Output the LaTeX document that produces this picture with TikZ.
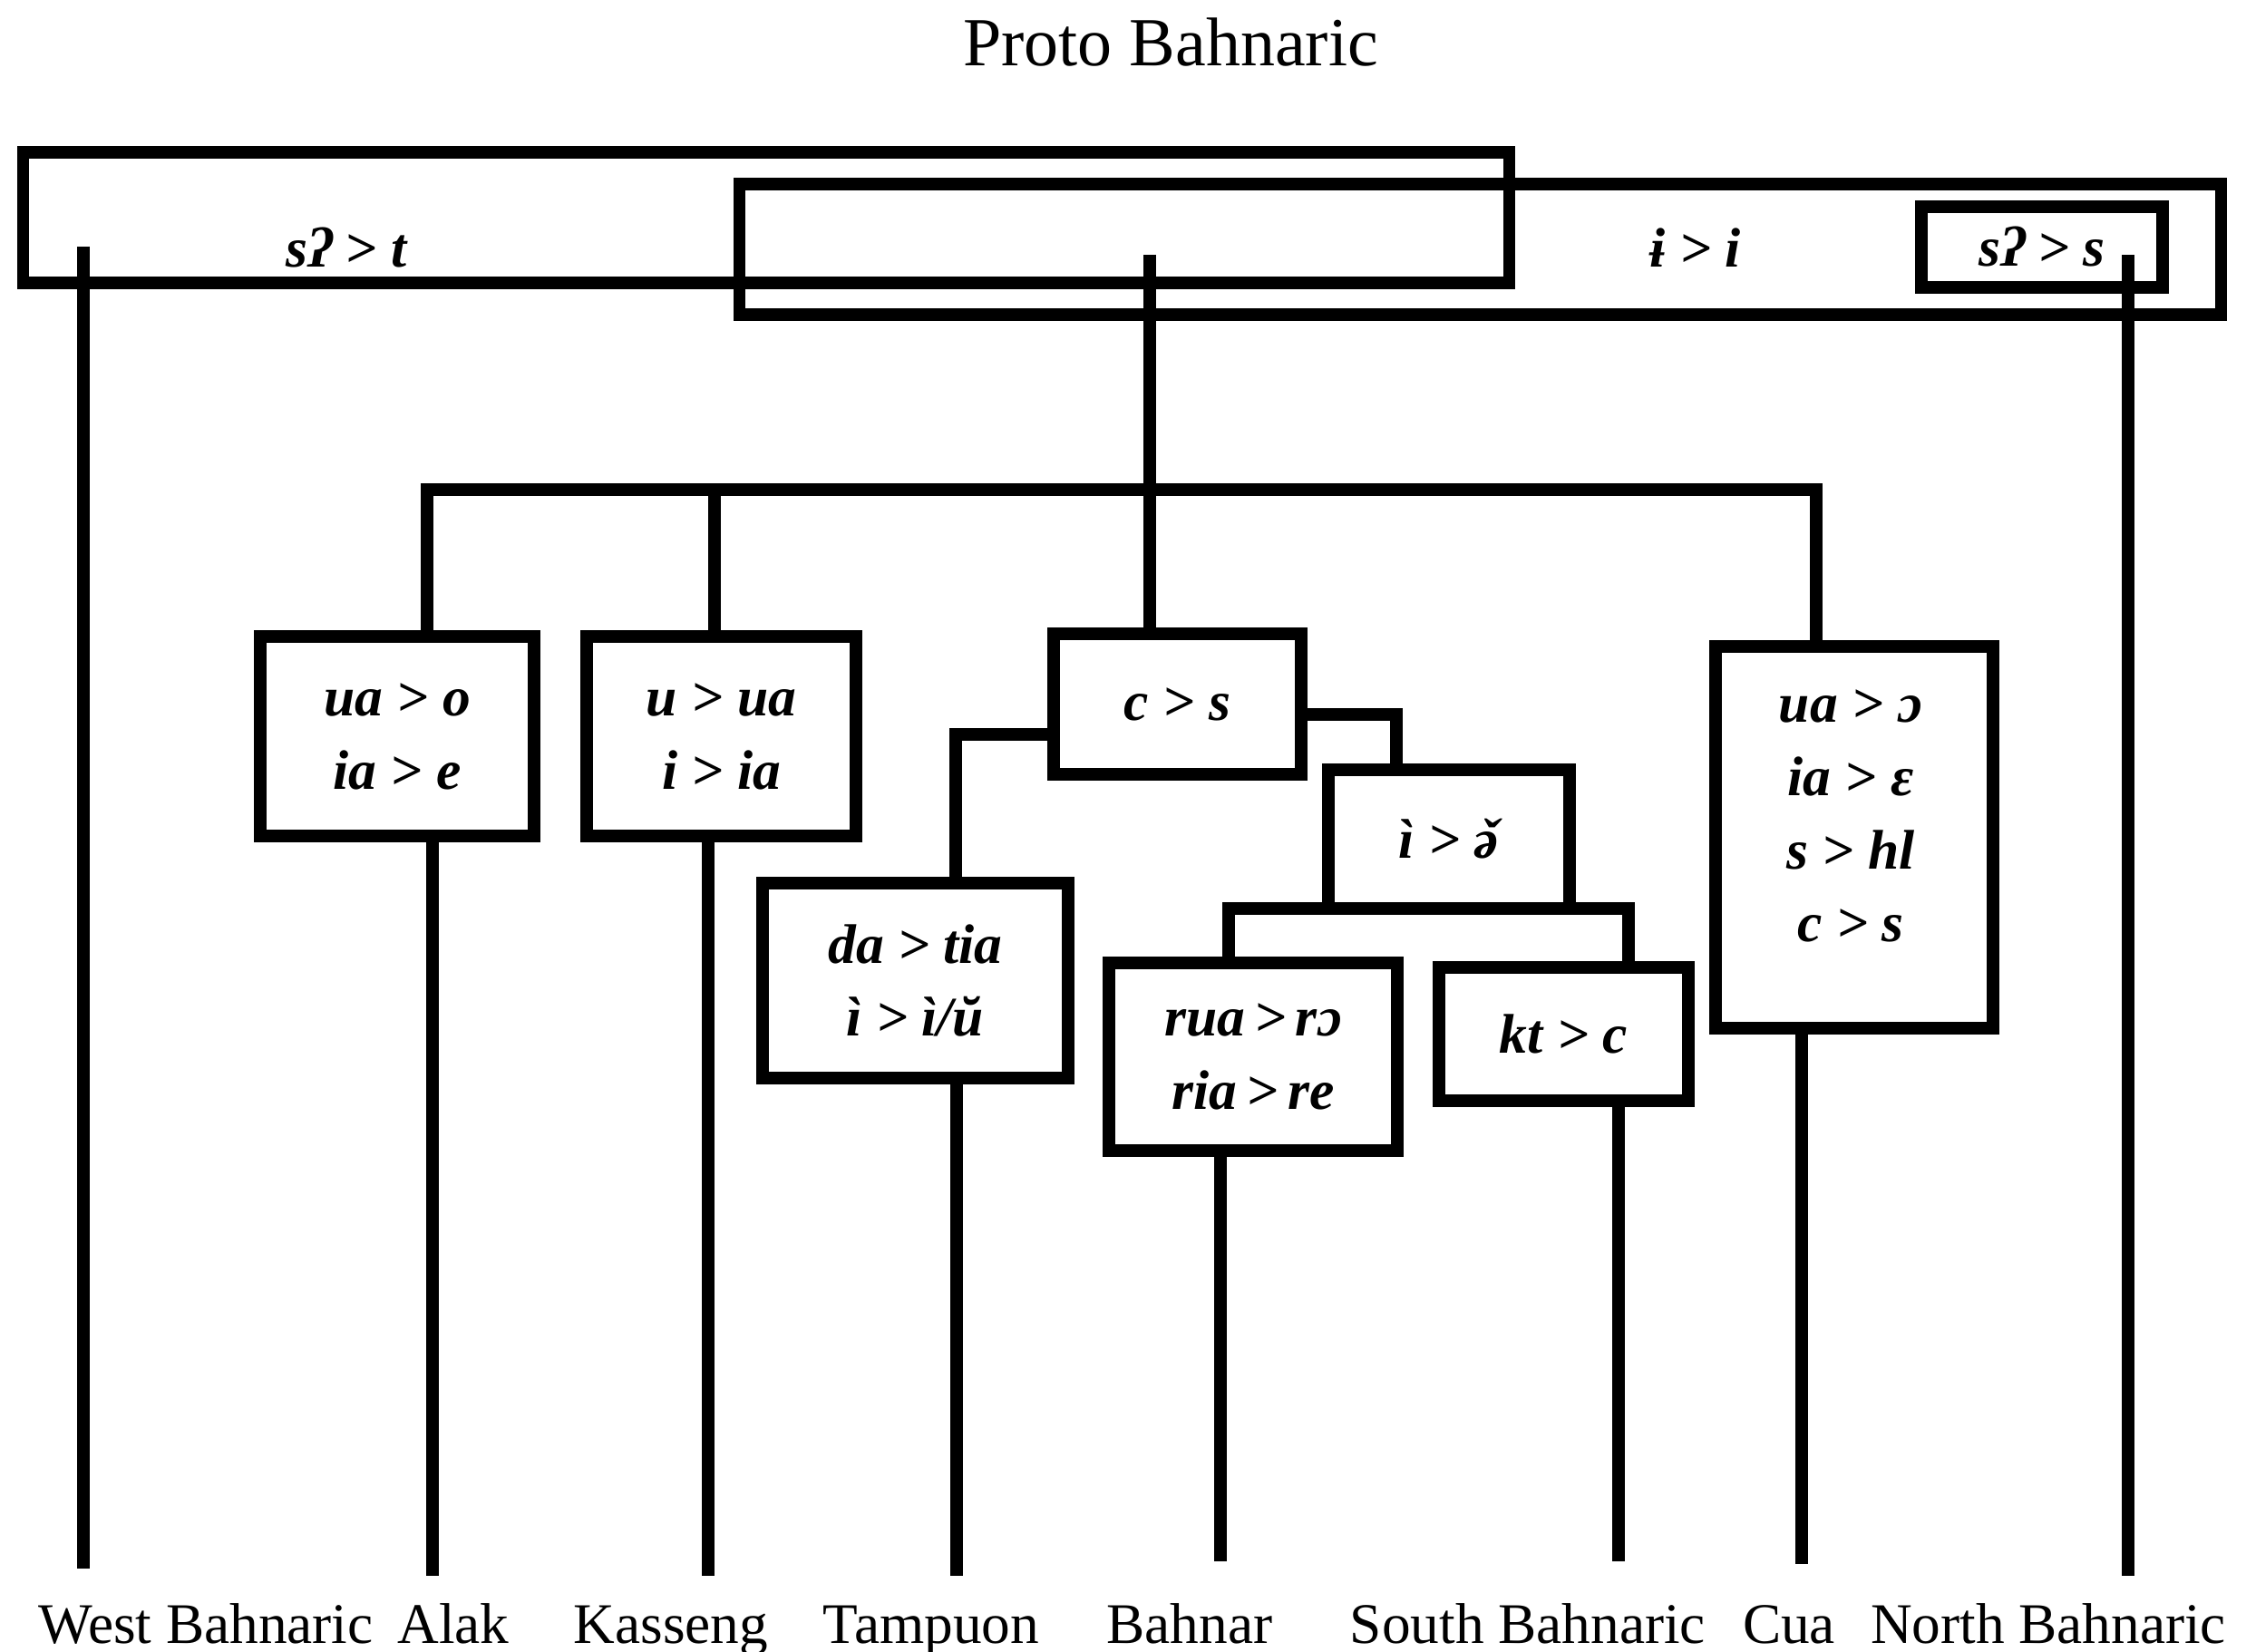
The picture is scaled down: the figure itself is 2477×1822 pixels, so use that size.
\documentclass[tikz,border=0pt]{standalone}
\usepackage{fontspec}
\setmainfont{Liberation Serif}
\newcommand\chgfont{\fontsize{17.5}{23}\selectfont\bfseries\itshape}
\newcommand\schwacaron{{\ooalign{ə\cr\hidewidth\kern0.12em ˇ\hidewidth\cr}}}
\begin{document}
\begin{tikzpicture}[x=0.01cm,y=-0.01cm,
  lw/.style={line width=0.135cm},
  box/.style={draw, lw, inner sep=0pt, align=center, font=\chgfont},
  conn/.style={draw, lw, line join=miter},
  chg/.style={font=\chgfont, inner sep=0pt, align=center},
  lang/.style={font=\fontsize{18}{20}\selectfont, anchor=base, inner sep=0pt},
  ttl/.style={font=\fontsize{21.6}{24}\selectfont, anchor=base, inner sep=0pt}]
\useasboundingbox (0,0) rectangle (2477,1822);

% title
\node[ttl] (pb) at (1291,73) {Proto Bahnaric};

% top boxes
\node[box, minimum width=16.38cm, minimum height=1.44cm] (A) at (845,240) {};
\node[box, minimum width=16.33cm, minimum height=1.44cm] (B) at (1632.5,275) {};
\node[box, minimum width=2.66cm, minimum height=0.89cm] (C) at (2252,272.5) {sʔ > s};
\node[chg] (tA) at (382,273) {sʔ > t};
\node[chg] (tB) at (1870,273) {ɨ > i};

% change boxes
\node[box, minimum width=3.02cm, minimum height=2.20cm] (alak) at (438,812) {ua > o\\ia > e};
\node[box, minimum width=2.97cm, minimum height=2.20cm] (kas) at (795.5,812) {u > ua\\i > ia};
\node[box, minimum width=2.73cm, minimum height=1.55cm] (cs) at (1298.5,776.5) {c > s};
\node[box, minimum width=3.37cm, minimum height=2.15cm] (tam) at (1009.5,1081.5) {da > tia\\ì > ì/ŭ};
\node[box, minimum width=2.66cm, minimum height=1.53cm] (ipa) at (1598,925.5) {ì > \schwacaron};
\node[box, minimum width=3.18cm, minimum height=2.07cm] (rua) at (1382,1165.5) {rua\,>\,rɔ\\ria\,>\,re};
\node[box, minimum width=2.75cm, minimum height=1.47cm] (kt) at (1724.5,1140.5) {kt > c};
\node[box, minimum width=3.06cm, minimum height=4.21cm] (cua) at (2045,923.5) {};
\node[chg] (cuaT) at (2041,900) {ua > ɔ\\ia > ɛ\\s > hl\\c > s};

% connector coordinates
\coordinate (pbW) at (92,272);
\coordinate (pbB) at (1268,281);
\coordinate (pbN) at (2347,281);
\coordinate (combL) at (471,540);
\coordinate (combR) at (2003,540);
\coordinate (kasT) at (788,540);
\coordinate (tL) at (1054,810);
\coordinate (tR) at (1540,788);
\coordinate (cL) at (1355,1002);
\coordinate (cR) at (1796,1002);
\coordinate (bW) at (92,1730);
\coordinate (bAlak) at (477,1738);
\coordinate (bKas) at (781,1738);
\coordinate (bTam) at (1055,1738);
\coordinate (bBah) at (1346,1722);
\coordinate (bSou) at (1785,1722);
\coordinate (bCua) at (1987,1725);
\coordinate (bNor) at (2347,1738);

% tree connectors
\draw[conn] (pbB) -- (pbB |- combL);
\draw[conn] (combL |- alak.north) -- (combL) -- (combR) -- (combR |- cua.north);
\draw[conn] (kasT) -- (kasT |- kas.north);
\draw[conn] (pbB |- combL) -- (pbB |- cs.north);
\draw[conn] (tL -| cs.west) -- (tL) -- (tL |- tam.north);
\draw[conn] (tR -| cs.east) -- (tR) -- (tR |- ipa.north);
\draw[conn] (cL |- rua.north) -- (cL) -- (cR) -- (cR |- kt.north);

% lines to languages
\draw[conn] (pbW) -- (bW);
\draw[conn] (bAlak |- alak.south) -- (bAlak);
\draw[conn] (bKas |- kas.south) -- (bKas);
\draw[conn] (bTam |- tam.south) -- (bTam);
\draw[conn] (bBah |- rua.south) -- (bBah);
\draw[conn] (bSou |- kt.south) -- (bSou);
\draw[conn] (bCua |- cua.south) -- (bCua);
\draw[conn] (pbN) -- (bNor);

% language labels
\node[lang] (lW) at (227,1813) {West Bahnaric};
\node[lang] (lAl) at (500,1813) {Alak};
\node[lang] (lKa) at (740,1813) {Kasseng};
\node[lang] (lTa) at (1027,1813) {Tampuon};
\node[lang] (lBa) at (1312,1813) {Bahnar};
\node[lang] (lSo) at (1685,1813) {South Bahnaric};
\node[lang] (lCu) at (1973,1813) {Cua};
\node[lang] (lNo) at (2259,1813) {North Bahnaric};
\end{tikzpicture}
\end{document}
